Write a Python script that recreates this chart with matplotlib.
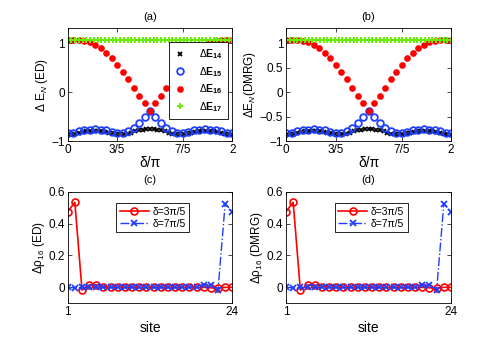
import matplotlib
matplotlib.use("Agg")
import matplotlib.pyplot as plt
import numpy as np

plt.rcParams["font.family"] = ["Liberation Sans", "DejaVu Sans"]
plt.rcParams["mathtext.fontset"] = "custom"
plt.rcParams["mathtext.rm"] = "Liberation Sans"
plt.rcParams["mathtext.it"] = "Liberation Sans:italic"
plt.rcParams["mathtext.bf"] = "Liberation Sans:bold"

# --- energy gaps vs delta/pi (same curves in ED and DMRG) ---
n_coarse = 31   # red / blue sampling
n_fine = 45     # black / green sampling

dE16_half = [1.07, 1.07, 1.06, 1.05, 1.02, 0.96, 0.89, 0.80, 0.69, 0.56,
             0.41, 0.26, 0.09, -0.07, -0.23, -0.38]
dE15_half = [-0.84, -0.83, -0.80, -0.78, -0.76, -0.75, -0.76, -0.78, -0.81, -0.83,
             -0.83, -0.80, -0.73, -0.63, -0.51, -0.38]
dE14_half = [-0.87, -0.86, -0.85, -0.83, -0.82, -0.80, -0.79, -0.79, -0.79, -0.80,
             -0.81, -0.83, -0.84, -0.86, -0.86, -0.86, -0.85, -0.83, -0.80, -0.78,
             -0.76, -0.75, -0.75]
dE17 = [1.07, 1.07, 1.07, 1.07, 1.07, 1.07, 1.07, 1.07, 1.07, 1.07, 1.07, 1.07,
        1.07, 1.07, 1.07, 1.07, 1.07, 1.07, 1.07, 1.07, 1.07, 1.07, 1.07, 1.07,
        1.07, 1.07, 1.07, 1.07, 1.07, 1.07, 1.07, 1.07, 1.07, 1.07, 1.07, 1.07,
        1.07, 1.07, 1.07, 1.07, 1.07, 1.07, 1.07, 1.07, 1.07]

# curves are symmetric about delta = pi
dE16 = dE16_half + dE16_half[-2::-1]
dE15 = dE15_half + dE15_half[-2::-1]
dE14 = dE14_half + dE14_half[-2::-1]

x_coarse = np.linspace(0, 2, n_coarse)
x_fine = np.linspace(0, 2, n_fine)

x_ticks = [0, 0.6, 1.4, 2]
x_ticklabels = ["0", "3/5", "7/5", "2"]

# --- density difference vs site ---
sites = np.arange(1, 25)
rho_3pi5 = [0.475, 0.533, -0.017, 0.015, 0.015, 0.004, 0.002, 0.001, 0.001, 0.0,
            0.0, 0.0, 0.0, 0.0, 0.0, 0.0, 0.0, 0.0, 0.0, 0.0,
            -0.003, -0.005, 0.0, 0.0]
rho_7pi5 = [0.0, -0.003, 0.0, 0.0, 0.0, 0.0, 0.0, 0.0, 0.0, 0.0,
            0.0, 0.0, 0.0, 0.0, 0.0, 0.0, 0.0, 0.001, 0.002, 0.015,
            0.015, -0.017, 0.525, 0.475]

fig = plt.figure(figsize=(4.98, 3.42), dpi=100)

W, H = 498.0, 342.0
def frac(l, r, t, b):
    return [l / W, 1 - b / H, (r - l) / W, (b - t) / H]

ax_a = fig.add_axes(frac(67.7, 232.3, 28.3, 141.3))
ax_b = fig.add_axes(frac(286, 451, 28.3, 141.3))
ax_c = fig.add_axes(frac(67.7, 232.3, 191.7, 303.3))
ax_d = fig.add_axes(frac(286, 451, 191.7, 303.3))

tick_fs = 8.5
label_fs = 8.5


def style(ax):
    ax.tick_params(direction="in", top=True, right=True, labelsize=tick_fs,
                   length=3, width=0.5, pad=2)
    for s in ax.spines.values():
        s.set_linewidth(0.6)


for ax, title, ylab in [(ax_a, "(a)", "\u0394 E$_N$ (ED)"),
                        (ax_b, "(b)", "\u0394E$_N$(DMRG)")]:
    ax.plot(x_fine, dE14, "x", color="black", ms=3.5, mew=1.3,
            label=r"$\Delta\mathbf{E}_{\mathbf{14}}$")
    ax.plot(x_coarse, dE15, "o", color="#1f3fff", mfc="none", ms=4.8, mew=1.3,
            label=r"$\Delta\mathbf{E}_{\mathbf{15}}$")
    ax.plot(x_coarse, dE16, "o", color="#ff0000", ms=4.8, mew=0,
            label=r"$\Delta\mathbf{E}_{\mathbf{16}}$")
    ax.plot(x_fine, dE17, "+", color="#66ee00", ms=4.5, mew=1.4,
            label=r"$\Delta\mathbf{E}_{\mathbf{17}}$")
    ax.set_xlim(0, 2)
    ax.set_ylim(-1, 1.3)
    ax.set_xticks(x_ticks)
    ax.set_xticklabels(x_ticklabels)
    ax.set_xlabel("\u03b4/\u03c0", fontsize=10, labelpad=0)
    ax.set_ylabel(ylab, fontsize=label_fs, labelpad=1)
    ax.set_title(title, fontsize=8, pad=6)
    style(ax)

ax_a.set_yticks([-1, 0, 1])
ax_b.set_yticks([-1, -0.5, 0, 0.5, 1])
ax_b.set_yticklabels(["\u22121", "\u22120.5", "0", "0.5", "1"])
ax_a.set_yticklabels(["\u22121", "0", "1"])

leg = ax_a.legend(loc="upper right", bbox_to_anchor=(0.975, 0.875),
                  fontsize=7.5, handlelength=1.2, handletextpad=1.2,
                  labelspacing=0.35, borderpad=0.5, fancybox=False,
                  framealpha=1, edgecolor="black", borderaxespad=0)
leg.get_frame().set_linewidth(0.6)

for ax, title, ylab in [(ax_c, "(c)", "\u0394\u03c1$_{16}$ (ED)"),
                        (ax_d, "(d)", "\u0394\u03c1$_{16}$ (DMRG)")]:
    ax.plot(sites, rho_3pi5, "-o", color="#ff0000", lw=1.2, ms=5, mfc="none",
            mew=1.2, label="\u03b4=3\u03c0/5")
    ax.plot(sites, rho_7pi5, "-.x", color="#1f3fff", lw=1.0, ms=4.5, mew=1.3,
            label="\u03b4=7\u03c0/5")
    ax.set_xlim(1, 24)
    ax.set_ylim(-0.1, 0.6)
    ax.set_xticks([1, 24])
    ax.set_yticks([0, 0.2, 0.4, 0.6])
    ax.set_yticklabels(["0", "0.2", "0.4", "0.6"])
    ax.set_xlabel("site", fontsize=10, labelpad=2)
    ax.set_ylabel(ylab, fontsize=label_fs, labelpad=1)
    ax.set_title(title, fontsize=8, pad=6)
    style(ax)
    lg = ax.legend(loc="upper left", bbox_to_anchor=(0.295, 0.9), fontsize=7.5,
                   handlelength=2.8, handletextpad=0.3, labelspacing=0.2,
                   borderpad=0.35, fancybox=False, framealpha=1,
                   edgecolor="black", borderaxespad=0)
    lg.get_frame().set_linewidth(0.6)

fig.savefig("out.png", dpi=100)
